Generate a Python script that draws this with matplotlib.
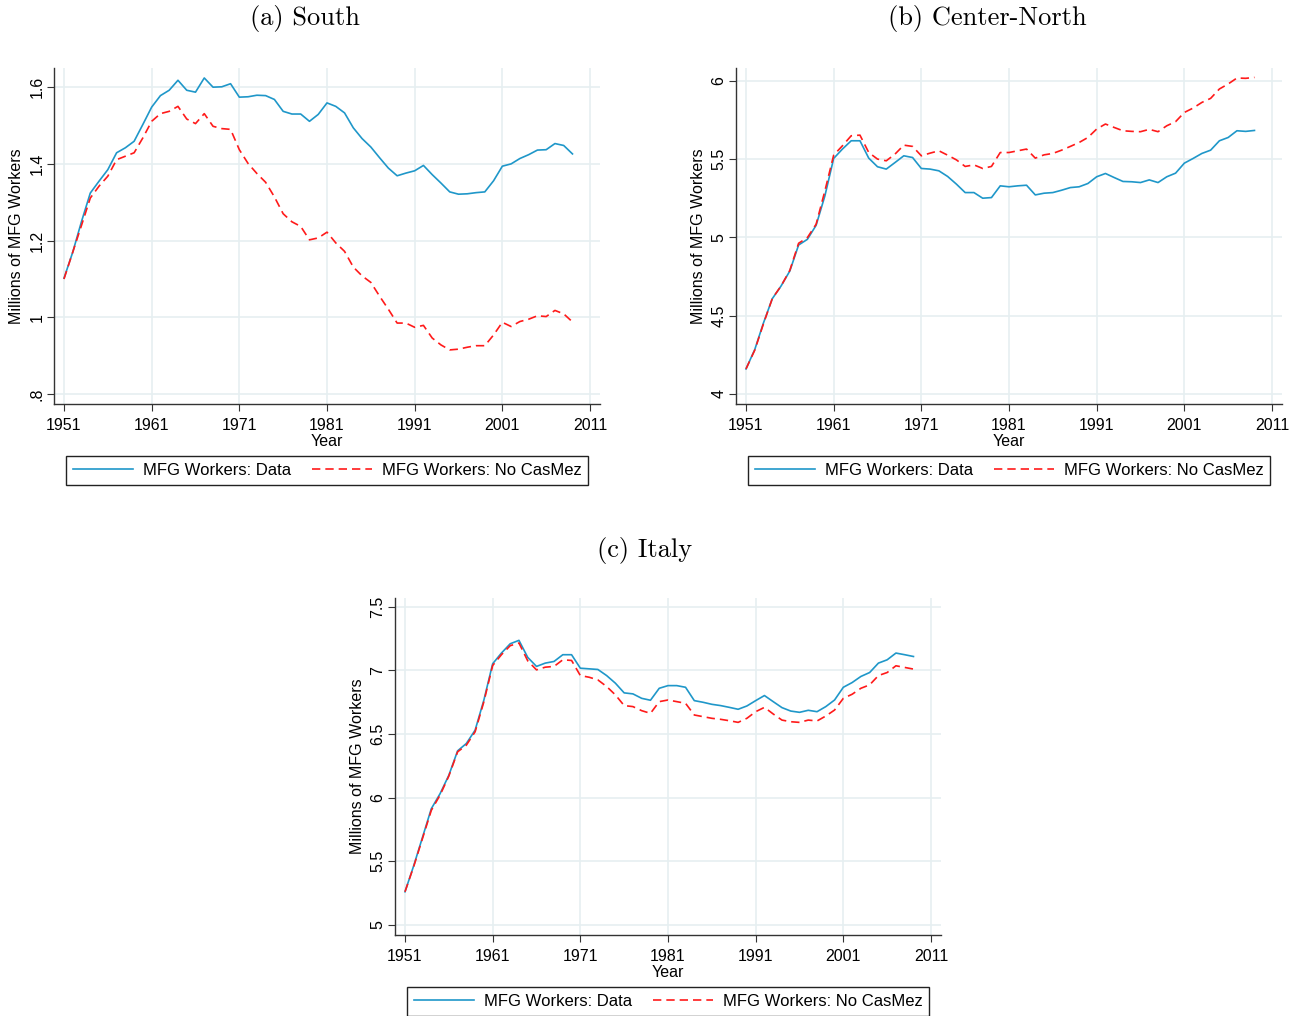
import matplotlib.pyplot as plt

years = list(range(1951, 2010))

south_data = [1.102, 1.17, 1.25, 1.324, 1.355, 1.385, 1.429, 1.442, 1.459, 1.503,
              1.548, 1.578, 1.592, 1.618, 1.592, 1.587, 1.624, 1.600, 1.601, 1.609,
              1.574, 1.575, 1.579, 1.578, 1.568, 1.537, 1.530, 1.530, 1.511, 1.529,
              1.559, 1.550, 1.533, 1.494, 1.466, 1.444, 1.416, 1.389, 1.369, 1.376,
              1.382, 1.396, 1.372, 1.350, 1.327, 1.321, 1.322, 1.325, 1.327, 1.356,
              1.394, 1.400, 1.414, 1.424, 1.436, 1.437, 1.453, 1.448, 1.426]
south_nocm = [1.100, 1.17, 1.24, 1.311, 1.342, 1.368, 1.411, 1.420, 1.429, 1.468,
              1.511, 1.531, 1.537, 1.550, 1.517, 1.505, 1.531, 1.498, 1.492, 1.490,
              1.437, 1.401, 1.375, 1.352, 1.314, 1.270, 1.249, 1.237, 1.202, 1.207,
              1.222, 1.194, 1.172, 1.131, 1.108, 1.091, 1.055, 1.021, 0.985, 0.985,
              0.974, 0.979, 0.946, 0.928, 0.915, 0.917, 0.922, 0.926, 0.926, 0.954,
              0.987, 0.976, 0.989, 0.995, 1.004, 1.002, 1.018, 1.009, 0.988]

north_data = [4.160, 4.284, 4.455, 4.609, 4.690, 4.786, 4.952, 4.988, 5.078, 5.266,
              5.505, 5.565, 5.618, 5.618, 5.507, 5.452, 5.437, 5.479, 5.522, 5.511,
              5.441, 5.437, 5.426, 5.390, 5.341, 5.287, 5.287, 5.251, 5.255, 5.330,
              5.324, 5.330, 5.334, 5.272, 5.283, 5.287, 5.302, 5.319, 5.324, 5.345,
              5.388, 5.409, 5.383, 5.358, 5.356, 5.351, 5.368, 5.351, 5.388, 5.411,
              5.475, 5.505, 5.537, 5.558, 5.618, 5.639, 5.682, 5.678, 5.684]
north_nocm = [4.160, 4.280, 4.450, 4.610, 4.690, 4.790, 4.963, 4.999, 5.085, 5.298,
              5.526, 5.586, 5.650, 5.654, 5.543, 5.501, 5.490, 5.533, 5.590, 5.582,
              5.522, 5.539, 5.554, 5.526, 5.496, 5.454, 5.464, 5.441, 5.454, 5.543,
              5.543, 5.554, 5.565, 5.507, 5.528, 5.537, 5.558, 5.582, 5.607, 5.639,
              5.693, 5.725, 5.703, 5.682, 5.678, 5.676, 5.691, 5.676, 5.714, 5.740,
              5.799, 5.827, 5.863, 5.889, 5.949, 5.981, 6.019, 6.017, 6.023]

italy_data = [5.260, 5.466, 5.689, 5.913, 6.031, 6.176, 6.368, 6.426, 6.531, 6.768,
              7.053, 7.137, 7.210, 7.237, 7.103, 7.032, 7.058, 7.071, 7.124, 7.124,
              7.018, 7.013, 7.008, 6.960, 6.900, 6.824, 6.816, 6.781, 6.766, 6.860,
              6.881, 6.881, 6.868, 6.763, 6.750, 6.734, 6.724, 6.710, 6.695, 6.721,
              6.763, 6.803, 6.755, 6.708, 6.681, 6.671, 6.687, 6.676, 6.716, 6.768,
              6.868, 6.905, 6.953, 6.984, 7.058, 7.084, 7.137, 7.124, 7.110]
italy_nocm = [5.260, 5.460, 5.680, 5.900, 6.020, 6.170, 6.360, 6.413, 6.518, 6.755,
              7.039, 7.124, 7.195, 7.216, 7.076, 7.005, 7.026, 7.032, 7.084, 7.079,
              6.960, 6.947, 6.926, 6.874, 6.808, 6.724, 6.716, 6.684, 6.663, 6.755,
              6.768, 6.755, 6.742, 6.650, 6.637, 6.624, 6.616, 6.605, 6.592, 6.624,
              6.676, 6.710, 6.658, 6.610, 6.597, 6.592, 6.610, 6.603, 6.642, 6.689,
              6.781, 6.813, 6.860, 6.887, 6.960, 6.984, 7.037, 7.024, 7.011]

x_ticks = [1951, 1961, 1971, 1981, 1991, 2001, 2011]
south_yticks = [0.8, 1.0, 1.2, 1.4, 1.6]
south_ylabels = ['.8', '1', '1.2', '1.4', '1.6']
north_yticks = [4, 4.5, 5, 5.5, 6]
north_ylabels = ['4', '4.5', '5', '5.5', '6']
italy_yticks = [5, 5.5, 6, 6.5, 7, 7.5]
italy_ylabels = ['5', '5.5', '6', '6.5', '7', '7.5']

W, H = 1299, 1016
BLUE = '#1f97c9'
RED = '#ff1a1a'
GRID = '#e6eff1'

plt.rcParams['font.family'] = ['Liberation Sans', 'DejaVu Sans']

fig = plt.figure(figsize=(W / 100, H / 100), dpi=100)


def px_axes(x0, y0, x1, y1):
    return fig.add_axes([x0 / W, 1 - y1 / H, (x1 - x0) / W, (y1 - y0) / H])


def panel(box, title, title_xy, data, nocm, yticks, ylabels, ylim, legbox):
    ax = px_axes(*box)
    ax.plot(years, data, color=BLUE, lw=1.2, label='MFG Workers: Data')
    ax.plot(years, nocm, color=RED, lw=1.2, linestyle=(0, (5, 3)),
            label='MFG Workers: No CasMez')
    ax.set_xlim(1949.86, 2012.14)
    ax.set_ylim(*ylim)
    ax.set_xticks(x_ticks)
    ax.set_yticks(yticks)
    ax.set_yticklabels(ylabels, rotation=90, va='center')
    ax.tick_params(labelsize=11.5, length=5, width=0.8, color='#333333')
    ax.tick_params(axis='x', pad=5)
    ax.tick_params(axis='y', pad=2)
    ax.grid(True, color=GRID, lw=1.2)
    ax.set_axisbelow(True)
    for s in ['top', 'right']:
        ax.spines[s].set_visible(False)
    for s in ['left', 'bottom']:
        ax.spines[s].set_color('#333333')
        ax.spines[s].set_linewidth(1.0)
    ax.set_xlabel('Year', fontsize=11.5, labelpad=1)
    ax.set_ylabel('Millions of MFG Workers', fontsize=11.5, labelpad=4)
    fig.text(title_xy[0] / W, 1 - title_xy[1] / H, title, fontsize=19,
             family='cmr10', ha='center', va='center')
    # legend box centred under each panel, like Stata's
    lx0, ly0, lx1, ly1 = legbox
    leg = ax.legend(loc='center', ncol=2, fontsize=12,
                    bbox_to_anchor=((lx0 + lx1) / 2 / W, 1 - (ly0 + ly1) / 2 / H),
                    bbox_transform=fig.transFigure, handlelength=3.6,
                    handletextpad=0.6, columnspacing=1.25, borderaxespad=0,
                    fancybox=False, framealpha=1, edgecolor='#222222',
                    borderpad=0.4)
    leg.get_frame().set_linewidth(1.0)
    return ax


panel((54, 68, 600, 404), '(a) South', (305, 19), south_data, south_nocm,
      south_yticks, south_ylabels, (0.774, 1.65), (68, 456, 586, 485))
panel((736, 68, 1282, 404), '(b) Center-North', (987, 19), north_data, north_nocm,
      north_yticks, north_ylabels, (3.936, 6.083), (750, 456, 1268, 485))
panel((395, 598, 941, 935), '(c) Italy', (645, 550), italy_data, italy_nocm,
      italy_yticks, italy_ylabels, (4.92, 7.57), (409, 987, 927, 1016))

fig.savefig('out.png', dpi=100)
